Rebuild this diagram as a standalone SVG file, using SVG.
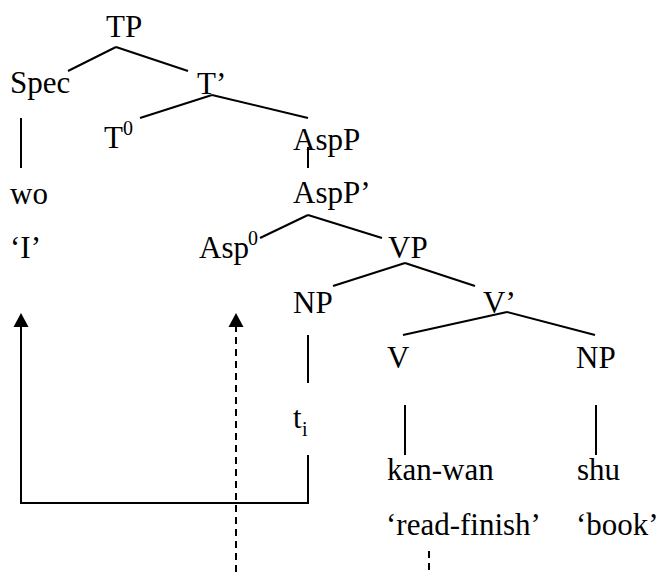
<svg xmlns="http://www.w3.org/2000/svg" width="659" height="572" viewBox="0 0 659 572">
<defs>
<style>
text{font-family:"Liberation Serif","Times New Roman",serif;font-size:31px;fill:#000}
.sup{font-size:20px}
.e{stroke:#000;stroke-width:2;fill:none}
.d{stroke:#000;stroke-width:2;fill:none;stroke-dasharray:7 5}
</style>
</defs>
<rect width="659" height="572" fill="#fff"/>
<g id="connectors">
<line class="e" x1="68" y1="71" x2="116" y2="47"/>
<line class="e" x1="116" y1="47" x2="188" y2="71"/>
<line class="e" x1="212" y1="95" x2="140" y2="118"/>
<line class="e" x1="212" y1="95" x2="308" y2="118"/>
<line class="e" x1="21" y1="118" x2="21" y2="168"/>
<line class="e" x1="308" y1="147" x2="308" y2="168"/>
<line class="e" x1="308" y1="215" x2="260" y2="238"/>
<line class="e" x1="308" y1="215" x2="382" y2="238"/>
<line class="e" x1="405" y1="263" x2="333" y2="286"/>
<line class="e" x1="405" y1="263" x2="475" y2="286"/>
<line class="e" x1="507" y1="312" x2="403" y2="335"/>
<line class="e" x1="507" y1="312" x2="595" y2="335"/>
<line class="e" x1="308" y1="335" x2="308" y2="383"/>
<line class="e" x1="405" y1="405" x2="405" y2="455"/>
<line class="e" x1="596" y1="405" x2="596" y2="455"/>
<path class="e" d="M308,455 V503 H21 V327"/>
<polygon points="21,313 13.5,327 28.5,327" fill="#000"/>
<line class="d" x1="236" y1="572" x2="236" y2="327"/>
<polygon points="236,313 228.5,327 243.5,327" fill="#000"/>
<line class="d" x1="429" y1="551" x2="429" y2="572"/>
</g>
<g id="TP"><text x="106" y="37">TP</text></g>
<g id="Spec"><text x="10" y="93">Spec</text></g>
<g id="Tbar"><text x="197" y="94">T’</text></g>
<g id="T0"><text x="104" y="148">T</text><text class="sup" x="123" y="135">0</text></g>
<g id="AspP"><text x="293" y="150">AspP</text></g>
<g id="wo"><text x="10" y="204">wo</text></g>
<g id="AspPbar"><text x="293" y="203">AspP’</text></g>
<g id="I"><text x="10" y="258">‘I’</text></g>
<g id="Asp0"><text x="199" y="258">Asp</text><text class="sup" x="248" y="245">0</text></g>
<g id="VP"><text x="388" y="258">VP</text></g>
<g id="NP1"><text x="293" y="313">NP</text></g>
<g id="Vbar"><text x="483" y="313">V’</text></g>
<g id="V"><text x="387" y="368">V</text></g>
<g id="NP2"><text x="576" y="368">NP</text></g>
<g id="ti"><text x="293" y="428">t</text><text class="sup" x="302" y="436">i</text></g>
<g id="kanwan"><text x="387" y="480">kan-wan</text></g>
<g id="shu"><text x="577" y="480">shu</text></g>
<g id="readfinish"><text x="386" y="535">‘read-finish’</text></g>
<g id="book"><text x="576" y="535">‘book’</text></g>
</svg>
